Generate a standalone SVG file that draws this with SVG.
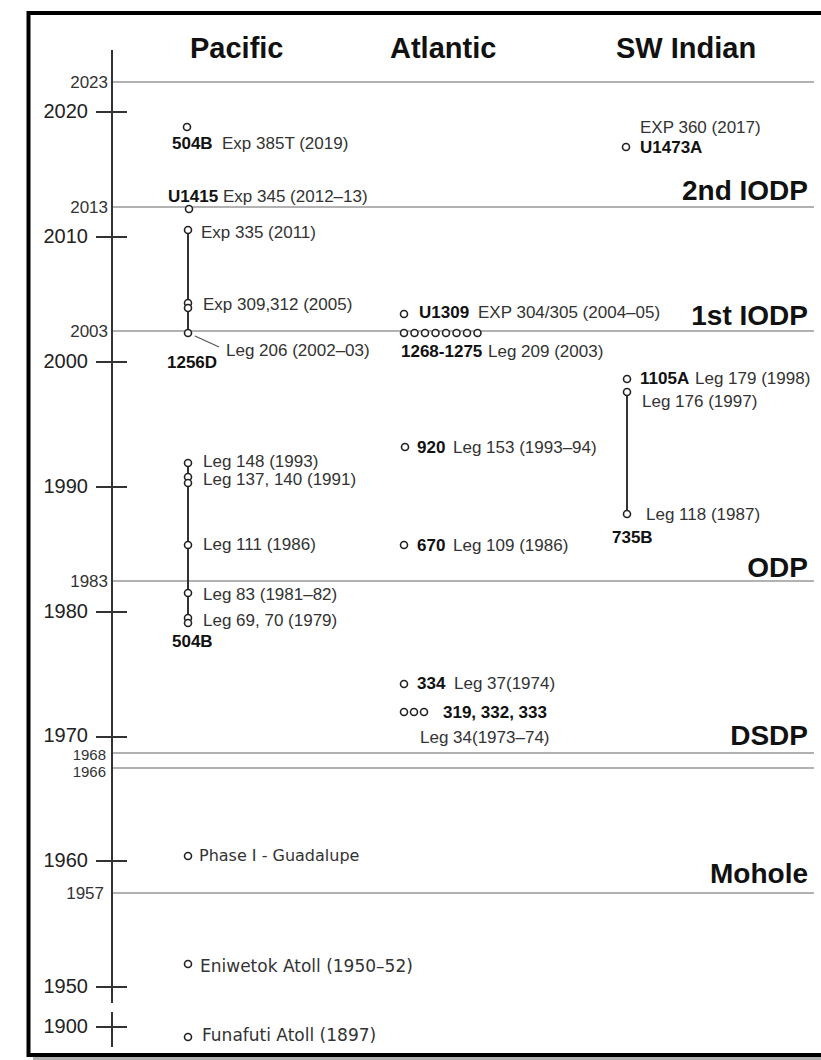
<svg xmlns="http://www.w3.org/2000/svg" width="821" height="1060" viewBox="0 0 821 1060">
<style>
text{font-family:"Liberation Sans",Arial,sans-serif}
.hdr{font-size:29px;font-weight:bold;fill:#111}
.per{font-size:28px;font-weight:bold;fill:#111;text-anchor:end}
.yl{font-size:20px;fill:#222;text-anchor:end}
.ys{font-size:17px;fill:#333;text-anchor:end}
.t{font-size:17px;fill:#333}
.b{font-size:17px;font-weight:bold;fill:#111}
.m{font-family:"DejaVu Sans",Verdana,sans-serif;font-size:17px;fill:#333}
.c{fill:#fff;stroke:#222;stroke-width:1.6}
.grid{stroke:#999;stroke-width:1.5}
.ax{stroke:#333;stroke-width:2;fill:none}
.con{stroke:#333;stroke-width:2}
</style>
<rect width="821" height="1060" fill="#fff"/>
<g id="frame">
<rect x="33" y="1057" width="788" height="3" fill="#b0b0b0"/>
<path d="M821 13 H28.5 V1055 H821" fill="none" stroke="#000" stroke-width="4"/>
</g>
<g id="headers">
<text class="hdr" x="190" y="58">Pacific</text>
<text class="hdr" x="390" y="58">Atlantic</text>
<text class="hdr" x="616" y="58">SW Indian</text>
</g>
<g id="periods">
<line class="grid" x1="112" y1="82" x2="814" y2="82"/>
<line class="grid" x1="112" y1="207" x2="814" y2="207"/>
<line class="grid" x1="112" y1="331" x2="814" y2="331"/>
<line class="grid" x1="112" y1="581" x2="814" y2="581"/>
<line class="grid" x1="112" y1="753" x2="814" y2="753"/>
<line class="grid" x1="112" y1="768" x2="814" y2="768"/>
<line class="grid" x1="112" y1="893" x2="814" y2="893"/>
<text class="ys" x="108" y="88">2023</text>
<text class="ys" x="108" y="213">2013</text>
<text class="ys" x="108" y="337">2003</text>
<text class="ys" x="108" y="587">1983</text>
<text class="ys" style="font-size:15px" x="106" y="760">1968</text>
<text class="ys" style="font-size:15px" x="106" y="777">1966</text>
<text class="ys" x="104" y="899">1957</text>
<text class="per" x="808" y="200">2nd IODP</text>
<text class="per" x="808" y="325">1st IODP</text>
<text class="per" x="808" y="577">ODP</text>
<text class="per" x="808" y="745">DSDP</text>
<text class="per" x="808" y="883">Mohole</text>
</g>
<g id="axis">
<path class="ax" d="M112 50 V1003 M112 1012 V1047 M96 112 H127 M96 237 H127 M96 362 H127 M96 487 H127 M96 612 H127 M96 737 H127 M96 861 H127 M96 987 H127 M96 1027 H127"/>
<text class="yl" x="88" y="118">2020</text>
<text class="yl" x="88" y="243">2010</text>
<text class="yl" x="88" y="368">2000</text>
<text class="yl" x="88" y="493">1990</text>
<text class="yl" x="88" y="618">1980</text>
<text class="yl" x="88" y="742">1970</text>
<text class="yl" x="88" y="867">1960</text>
<text class="yl" x="88" y="993">1950</text>
<text class="yl" x="88" y="1033">1900</text>
</g>
<g id="connectors">
<line class="con" x1="188" y1="230" x2="188" y2="333"/>
<line class="con" x1="188" y1="463" x2="188" y2="620"/>
<line class="con" x1="627" y1="392" x2="627" y2="514"/>
<line x1="195" y1="336" x2="219" y2="347" stroke="#555" stroke-width="1.2"/>
</g>
<g id="p2019"><circle class="c" cx="187" cy="127" r="3.5"/><text class="b" x="172" y="149">504B</text><text class="t" x="222" y="149">Exp 385T (2019)</text></g>
<g id="p2012"><circle class="c" cx="189" cy="209" r="3.5"/><text class="b" x="168" y="202">U1415</text><text class="t" x="223" y="202">Exp 345 (2012–13)</text></g>
<g id="p2011"><circle class="c" cx="188" cy="230" r="3.5"/><text class="t" x="201" y="238">Exp 335 (2011)</text></g>
<g id="p2005"><circle class="c" cx="188" cy="303" r="3.5"/><circle class="c" cx="188" cy="308" r="3.5"/><text class="t" x="203" y="310">Exp 309,312 (2005)</text></g>
<g id="p2002"><circle class="c" cx="188" cy="333" r="3.5"/><text class="b" x="167" y="368">1256D</text><text class="t" x="226" y="356">Leg 206 (2002–03)</text></g>
<g id="p1993"><circle class="c" cx="188" cy="463" r="3.5"/><text class="t" x="203" y="467">Leg 148 (1993)</text></g>
<g id="p1991"><circle class="c" cx="188" cy="477" r="3.5"/><circle class="c" cx="188" cy="483" r="3.5"/><text class="t" x="203" y="485">Leg 137, 140 (1991)</text></g>
<g id="p1986"><circle class="c" cx="188" cy="545" r="3.5"/><text class="t" x="203" y="550">Leg 111 (1986)</text></g>
<g id="p1981"><circle class="c" cx="188" cy="593" r="3.5"/><text class="t" x="203" y="600">Leg 83 (1981–82)</text></g>
<g id="p1979"><circle class="c" cx="188" cy="618" r="3.5"/><circle class="c" cx="188" cy="623" r="3.5"/><text class="t" x="203" y="626">Leg 69, 70 (1979)</text><text class="b" x="172" y="647">504B</text></g>
<g id="p1960"><circle class="c" cx="188" cy="856" r="3.5"/><text class="m" style="font-size:16px" x="199" y="861">Phase I - Guadalupe</text></g>
<g id="p1950"><circle class="c" cx="188" cy="964" r="3.5"/><text class="m" x="200" y="972">Eniwetok Atoll (1950–52)</text></g>
<g id="p1897"><circle class="c" cx="188" cy="1037" r="3.5"/><text class="m" x="202" y="1041">Funafuti Atoll (1897)</text></g>
<g id="a2004"><circle class="c" cx="404" cy="314" r="3.5"/><text class="b" x="419" y="318">U1309</text><text class="t" x="478" y="318">EXP 304/305 (2004–05)</text></g>
<g id="a2003"><circle class="c" cx="404" cy="333" r="3.5"/><circle class="c" cx="414.5" cy="333" r="3.5"/><circle class="c" cx="425" cy="333" r="3.5"/><circle class="c" cx="435.5" cy="333" r="3.5"/><circle class="c" cx="446" cy="333" r="3.5"/><circle class="c" cx="456.5" cy="333" r="3.5"/><circle class="c" cx="467" cy="333" r="3.5"/><circle class="c" cx="477.5" cy="333" r="3.5"/><text class="b" x="401" y="357">1268-1275</text><text class="t" x="488" y="357">Leg 209 (2003)</text></g>
<g id="a1993"><circle class="c" cx="405" cy="447" r="3.5"/><text class="b" x="417" y="453">920</text><text class="t" x="453" y="453">Leg 153 (1993–94)</text></g>
<g id="a1986"><circle class="c" cx="404" cy="545" r="3.5"/><text class="b" x="417" y="551">670</text><text class="t" x="453" y="551">Leg 109 (1986)</text></g>
<g id="a1974"><circle class="c" cx="404" cy="684" r="3.5"/><text class="b" x="417" y="689">334</text><text class="t" x="454" y="689">Leg 37(1974)</text></g>
<g id="a1973"><circle class="c" cx="404" cy="712" r="3.5"/><circle class="c" cx="414" cy="712" r="3.5"/><circle class="c" cx="424" cy="712" r="3.5"/><text class="b" x="443" y="718">319, 332, 333</text><text class="t" x="420" y="743">Leg 34(1973–74)</text></g>
<g id="s2017"><text class="t" x="640" y="133">EXP 360 (2017)</text><circle class="c" cx="626" cy="147" r="3.5"/><text class="b" x="640" y="153">U1473A</text></g>
<g id="s1998"><circle class="c" cx="627" cy="379" r="3.5"/><text class="b" x="640" y="384">1105A</text><text class="t" x="695" y="384">Leg 179 (1998)</text></g>
<g id="s1997"><circle class="c" cx="627" cy="392" r="3.5"/><text class="t" x="642" y="407">Leg 176 (1997)</text></g>
<g id="s1987"><circle class="c" cx="627" cy="514" r="3.5"/><text class="t" x="646" y="520">Leg 118 (1987)</text><text class="b" x="612" y="543">735B</text></g>
</svg>
